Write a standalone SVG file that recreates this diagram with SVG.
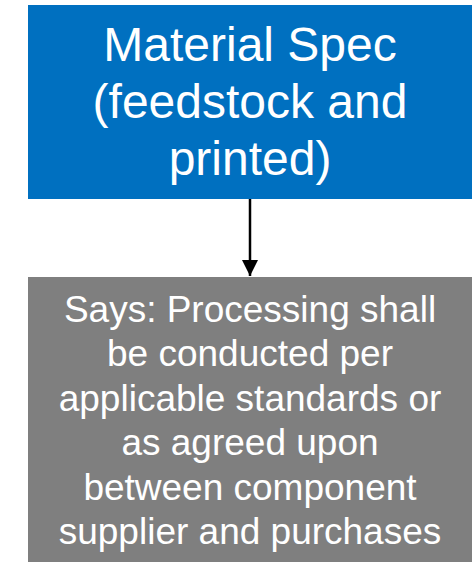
<svg xmlns="http://www.w3.org/2000/svg" width="472" height="562" viewBox="0 0 472 562">
<style>
.blue{fill:#0070C0}
.gray{fill:#7F7F7F}
.t{font-family:"Liberation Sans",Arial,sans-serif;fill:#fff;text-anchor:middle}
.t1{font-size:48px}
.t2{font-size:37px}
.conn{stroke:#000;stroke-width:2.5;fill:none}
</style>
<defs>
<marker id="ah" markerUnits="userSpaceOnUse" markerWidth="18" markerHeight="18" refX="16" refY="8" orient="auto">
<path d="M0,0 L16,8 L0,16 Z" fill="#000"/>
</marker>
</defs>
<g id="spec">
<rect class="blue" x="28" y="5" width="444" height="194"/>
<text class="t t1" x="250" y="61">Material Spec</text>
<text class="t t1" x="250" y="118">(feedstock and</text>
<text class="t t1" x="250" y="175">printed)</text>
</g>
<g id="says">
<rect class="gray" x="28" y="277" width="444" height="285"/>
<text class="t t2" x="250" y="321.5">Says: Processing shall</text>
<text class="t t2" x="250" y="366">be conducted per</text>
<text class="t t2" x="250" y="410.5">applicable standards or</text>
<text class="t t2" x="250" y="455">as agreed upon</text>
<text class="t t2" x="250" y="499.5">between component</text>
<text class="t t2" x="250" y="544">supplier and purchases</text>
</g>
<g id="connectors">
<line class="conn" x1="250" y1="199" x2="250" y2="276" marker-end="url(#ah)"/>
</g>
</svg>
